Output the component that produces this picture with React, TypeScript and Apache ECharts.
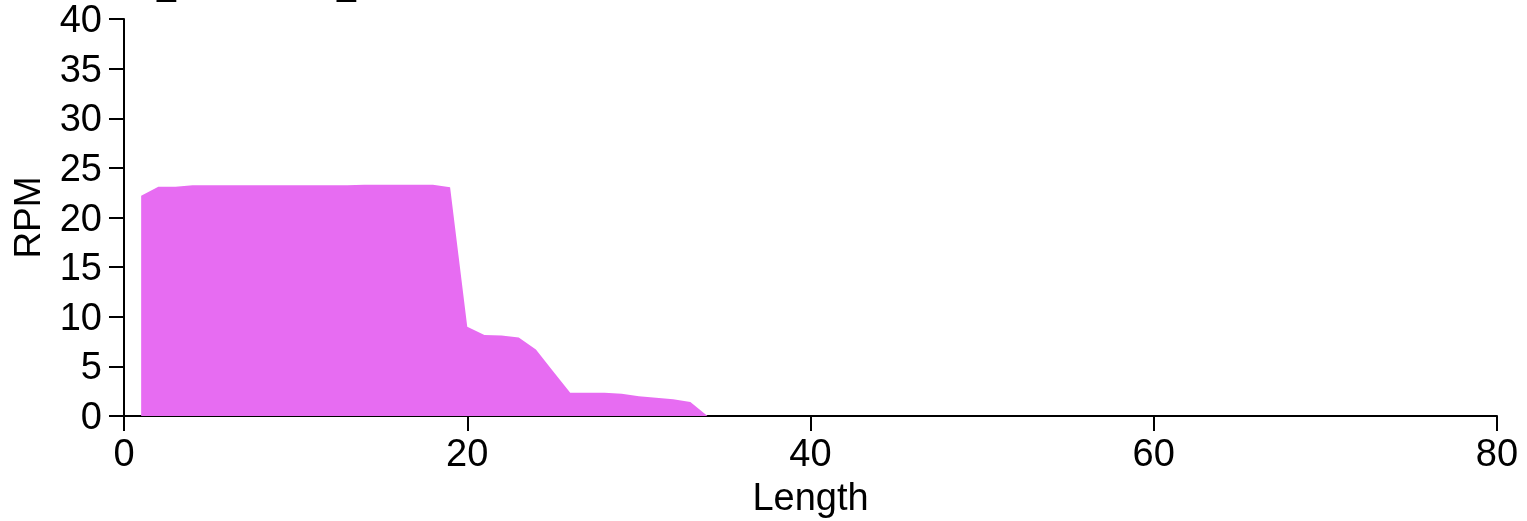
import React, { useEffect, useRef } from "react";
import * as echarts from "echarts";

const lengths = [1, 2, 3, 4, 5, 6, 7, 8, 9, 10, 11, 12, 13, 14, 15, 16, 17, 18, 19, 20, 21, 22, 23, 24, 25, 26, 27, 28, 29, 30, 31, 32, 33, 34];
const rpm = [22.2, 23.1, 23.1, 23.25, 23.25, 23.25, 23.25, 23.25, 23.25, 23.25, 23.25, 23.25, 23.25, 23.3, 23.3, 23.3, 23.3, 23.3, 23.05, 9.0, 8.15, 8.1, 7.9, 6.7, 4.5, 2.35, 2.35, 2.35, 2.25, 2.0, 1.85, 1.7, 1.4, 0];
const xTicks = { min: 0, max: 80, interval: 20 };
const yTicks = { min: 0, max: 40, interval: 5 };

export default function App() {
  const ref = useRef<HTMLDivElement>(null);
  useEffect(() => {
    const chart = echarts.init(ref.current!, null, { renderer: "svg" });
    const font = "Liberation Sans, Arial, sans-serif";
    chart.setOption({
      animation: false,
      grid: { left: 124, right: 30, top: 19, bottom: 103, containLabel: false },
      graphic: [
        { type: "text", left: 157, top: -34, style: { text: "_", fontSize: 34, fontFamily: font, fill: "#000" } },
        { type: "text", left: 337, top: -34, style: { text: "_", fontSize: 34, fontFamily: font, fill: "#000" } },
      ],
      xAxis: {
        type: "value",
        min: xTicks.min,
        max: xTicks.max,
        interval: xTicks.interval,
        name: "Length",
        nameLocation: "middle",
        nameGap: 62,
        nameTextStyle: { fontSize: 38, color: "#000", fontFamily: font },
        axisLine: { show: true, onZero: false, lineStyle: { color: "#000", width: 2 } },
        axisTick: { show: true, length: 15, lineStyle: { color: "#000", width: 2 } },
        axisLabel: { fontSize: 38, color: "#000", fontFamily: font, margin: 18 },
        splitLine: { show: false },
      },
      yAxis: {
        type: "value",
        min: yTicks.min,
        max: yTicks.max,
        interval: yTicks.interval,
        name: "RPM",
        nameLocation: "middle",
        nameGap: 78,
        nameTextStyle: { fontSize: 37, color: "#000", fontFamily: font },
        axisLine: { show: true, onZero: false, lineStyle: { color: "#000", width: 2 } },
        axisTick: { show: true, length: 15, lineStyle: { color: "#000", width: 2 } },
        axisLabel: { fontSize: 38, color: "#000", fontFamily: font, margin: 22 },
        splitLine: { show: false },
      },
      series: [
        {
          type: "line",
          data: lengths.map((x, i) => [x, rpm[i]]),
          symbol: "none",
          lineStyle: { width: 0 },
          areaStyle: { color: "#E76CF2", opacity: 1 },
          z: 1,
        },
      ],
    });
    return () => chart.dispose();
  }, []);
  return <div ref={ref} style={{ position: "fixed", left: 0, top: 0, width: 1527, height: 521 }} />;
}
